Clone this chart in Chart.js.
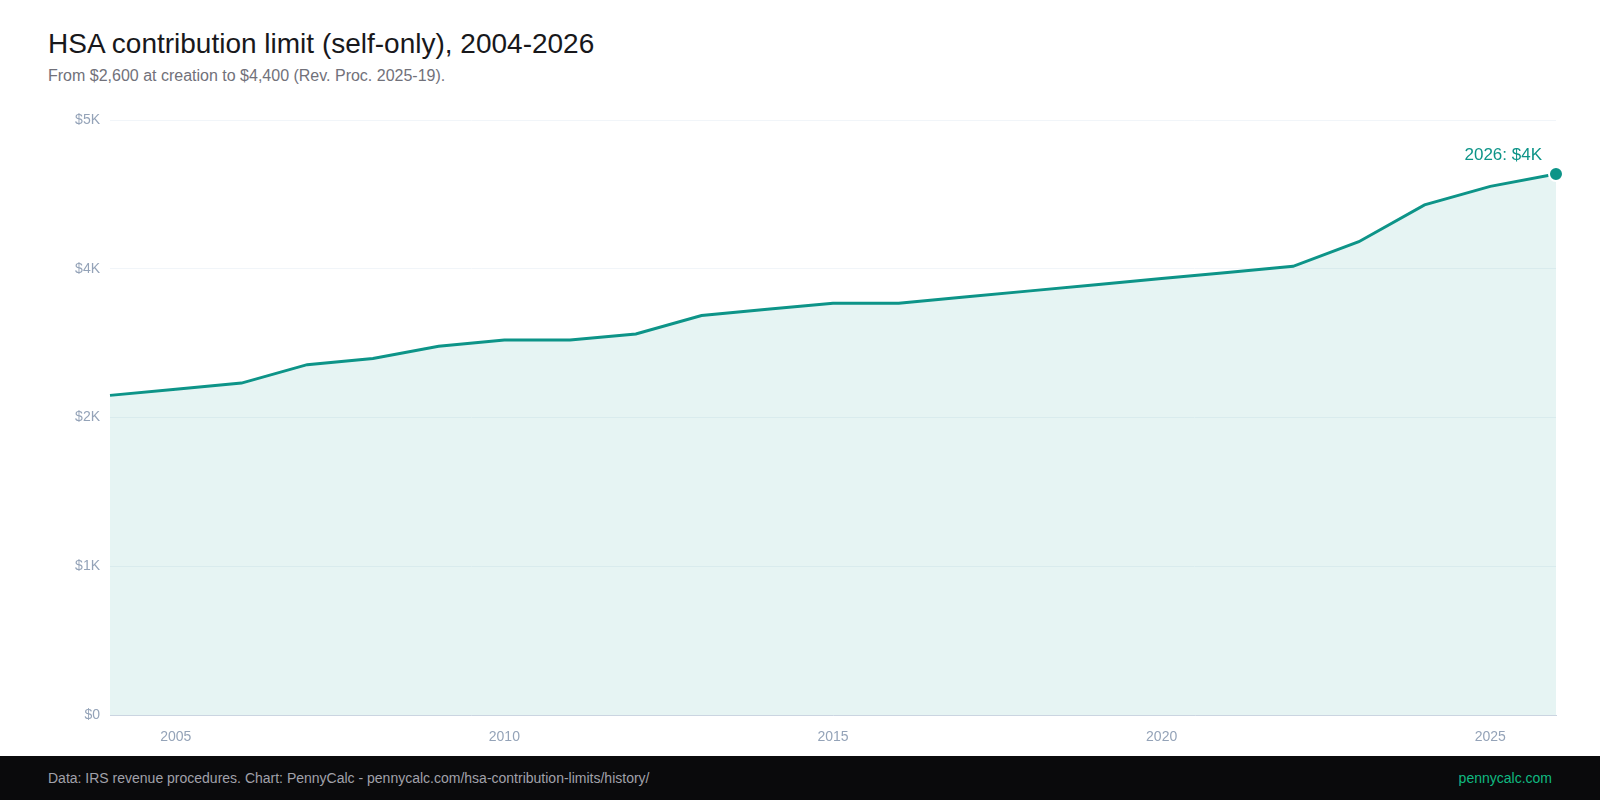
<!DOCTYPE html>
<html>
<head>
<meta charset="utf-8">
<script src="https://cdn.jsdelivr.net/npm/chart.js@4"></script>
<style>
  html, body { margin:0; padding:0; width:1600px; height:800px; background:#fff; overflow:hidden; font-family:"Liberation Sans", Arial, sans-serif; }
  #title { position:absolute; left:48px; top:30px; font-size:28px; line-height:28px; color:#18181b; white-space:nowrap; }
  #subtitle { position:absolute; left:48px; top:68px; font-size:16px; line-height:16px; color:#71717a; white-space:nowrap; }
  #wrap { position:absolute; left:0; top:100px; width:1600px; height:656px; }
  #footer { position:absolute; left:0; top:756px; width:1600px; height:44px; background:#0a0a0c; }
  #footL { position:absolute; left:48px; top:0; line-height:44px; font-size:14px; color:#a1a1aa; white-space:nowrap; }
  #footR { position:absolute; right:48px; top:0; line-height:44px; font-size:14px; color:#10b981; white-space:nowrap; }
</style>
</head>
<body>
<div id="title">HSA contribution limit (self-only), 2004-2026</div>
<div id="subtitle">From $2,600 at creation to $4,400 (Rev. Proc. 2025-19).</div>
<div id="wrap"><canvas id="c"></canvas></div>
<div id="footer">
  <div id="footL">Data: IRS revenue procedures. Chart: PennyCalc - pennycalc.com/hsa-contribution-limits/history/</div>
  <div id="footR">pennycalc.com</div>
</div>
<script>
const years = ['2004','2005','2006','2007','2008','2009','2010','2011','2012','2013','2014','2015','2016','2017','2018','2019','2020','2021','2022','2023','2024','2025','2026'];
const limits = [2600,2650,2700,2850,2900,3000,3050,3050,3100,3250,3300,3350,3350,3400,3450,3500,3550,3600,3650,3850,4150,4300,4400];
const yMax = Math.max(...limits) * 1.1;
const yStep = yMax / 4;

const TEAL = '#0d9488';
const FONT = '"Liberation Sans", Arial, sans-serif';
const fmtK = v => v === 0 ? '$0' : '$' + Math.round(v / 1000) + 'K';

const endLabel = {
  id: 'endLabel',
  afterDatasetsDraw(chart) {
    const meta = chart.getDatasetMeta(0);
    const i = limits.length - 1;
    const pt = meta.data[i];
    const ctx = chart.ctx;
    ctx.save();
    ctx.font = '17px ' + FONT;
    ctx.fillStyle = TEAL;
    ctx.textAlign = 'right';
    ctx.textBaseline = 'alphabetic';
    ctx.fillText(years[i] + ': ' + fmtK(limits[i]), pt.x - 14, pt.y - 14);
    ctx.restore();
  }
};

new Chart(document.getElementById('c'), {
  type: 'line',
  data: {
    labels: years,
    datasets: [{
      data: limits,
      borderColor: TEAL,
      borderWidth: 3,
      backgroundColor: 'rgba(13,148,136,0.1)',
      fill: 'origin',
      tension: 0,
      clip: false,
      pointRadius: c => c.dataIndex === limits.length - 1 ? 7 : 0,
      pointHoverRadius: c => c.dataIndex === limits.length - 1 ? 7 : 0,
      pointBackgroundColor: TEAL,
      pointBorderColor: '#ffffff',
      pointBorderWidth: 2
    }]
  },
  options: {
    responsive: true,
    maintainAspectRatio: false,
    animation: false,
    layout: { padding: { top: 20, right: 44, left: 0, bottom: 0 } },
    plugins: { legend: { display: false }, tooltip: { enabled: false }, title: { display: false } },
    scales: {
      x: {
        type: 'category',
        offset: false,
        grid: { display: false, drawTicks: false },
        border: { display: true, color: '#cbd5e1', width: 1 },
        ticks: {
          autoSkip: false,
          maxRotation: 0,
          padding: 14,
          color: '#94a3b8',
          font: { family: FONT, size: 14 },
          callback: function(v, i) { const y = Number(years[i]); return y % 5 === 0 ? String(y) : null; }
        },
        afterFit: s => { s.height = 41; }
      },
      y: {
        min: 0,
        max: yMax,
        grid: { color: '#f1f5f9', drawTicks: false, lineWidth: 1 },
        border: { display: false },
        ticks: {
          stepSize: yStep,
          padding: 10,
          color: '#94a3b8',
          font: { family: FONT, size: 14 },
          callback: v => fmtK(v)
        },
        afterFit: s => { s.width = 110; }
      }
    }
  },
  plugins: [endLabel]
});
</script>
</body>
</html>
